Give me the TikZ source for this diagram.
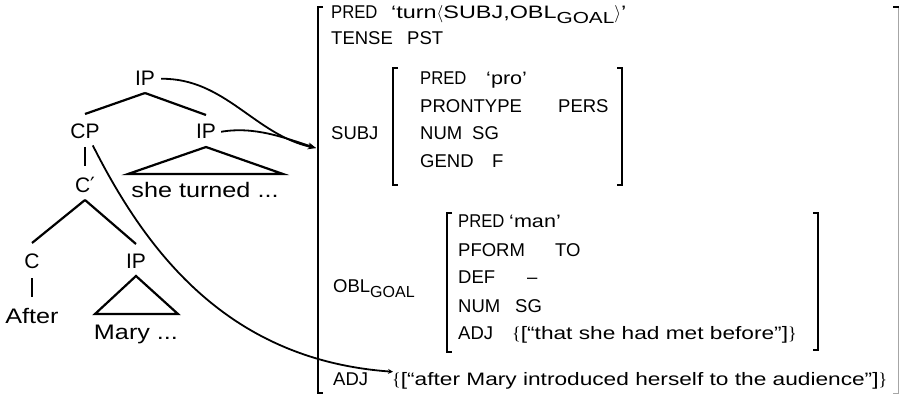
\documentclass[tikz,border=0pt]{standalone}
\usepackage{fontspec}
\setmainfont{Liberation Sans}
\newfontfamily\lw{Liberation Sans}[FakeStretch=1.2]
\newfontfamily\lww{Liberation Sans}[FakeStretch=1.26]
\newfontfamily\lwww{Liberation Sans}[FakeStretch=1.3]
\newfontfamily\narrowf{Liberation Sans}[FakeStretch=0.9]
\newfontfamily\serifb{Liberation Serif}
\newfontfamily\dejavu{DejaVu Sans}
\usetikzlibrary{arrows.meta}
\newcommand{\subgoal}{\raisebox{-5pt}{\fontsize{16}{16}\selectfont GOAL}}
\newcommand{\lbr}{{\serifb\{}}
\newcommand{\rbr}{{\serifb\}}}
\begin{document}
\begin{tikzpicture}[x=1pt,y=-1pt,
  tree/.style={font=\fontsize{21}{21}\selectfont, inner sep=0pt, anchor=base},
  treelw/.style={tree, font=\fontsize{21}{21}\selectfont\lw},
  avm/.style={font=\fontsize{18.5}{18.5}\selectfont, inner sep=0pt, anchor=base west},
  avmnarrow/.style={avm, font=\fontsize{18.5}{18.5}\selectfont\narrowf},
  avmlw/.style={avm, font=\fontsize{18}{18}\selectfont\lw},
  avmlww/.style={avm, font=\fontsize{18}{18}\selectfont\lww},
  avmpred/.style={avm, font=\fontsize{18}{18}\selectfont\lwww},
  branch/.style={line width=2.2pt},
  brk/.style={line width=1.6pt},
  link/.style={line width=1.8pt, -{Stealth[length=8pt,width=6pt]}},
  smalllink/.style={line width=1.8pt, -{Stealth[length=5pt,width=5pt]}}]
\useasboundingbox (0,0) rectangle (901,395);
% ---------- tree ----------
\node[tree]   (ip1)   at (145,86)  {IP};
\node[tree]   (cp)    at (85,139)  {CP};
\node[tree]   (ip2)   at (206,139) {IP};
\node[treelw] (she)   at (205,198) {she turned ...};
\node[tree]   (cbar)  at (85,193)  {C{\dejavu ′}};
\node[tree]   (c)     at (32,268)  {C};
\node[tree]   (ip3)   at (136,268) {IP};
\node[treelw] (after) at (32,323)  {After};
\node[treelw] (mary)  at (136,339) {Mary ...};
\draw[branch] ([yshift=-7pt]ip1.base) -- ([yshift=25pt]cp.base);
\draw[branch] ([yshift=-7pt]ip1.base) -- ([yshift=24pt]ip2.base);
\draw[branch] ([yshift=-8pt]cp.base) -- ([yshift=27pt]cbar.base);
\draw[branch] ([yshift=-7pt]cbar.base) -- ([yshift=25pt]c.base);
\draw[branch] ([yshift=-7pt]cbar.base) -- ([yshift=24pt]ip3.base);
\draw[branch] ([yshift=-10pt]c.base) -- ([yshift=26pt]after.base);
\draw[branch, line join=miter] ([yshift=-8pt]ip2.base) -- ([xshift=-77pt,yshift=24pt]she.base)
   -- ([xshift=78pt,yshift=24pt]she.base) -- cycle;
\draw[branch, line join=miter] ([yshift=-8pt]ip3.base) -- ([xshift=-41pt,yshift=25pt]mary.base)
   -- ([xshift=42pt,yshift=25pt]mary.base) -- cycle;
% ---------- AVM ----------
\node[avmnarrow] (pred)  at (331,19) {PRED};
\node[avmpred]   (predv) at (391,19) {‘turn$\langle$SUBJ,OBL\subgoal$\rangle$’};
\node[avm]    (tense) at (331,45) {TENSE};
\node[avm]    (pst)   at (407,45) {PST};
\node[avm]    (subj)  at (331,140) {SUBJ};
\node[avmnarrow] (spred) at (420,85) {PRED};
\node[avmlw]  (spro)  at (486,85) {‘pro’};
\node[avm]    (sptyp) at (420,113) {PRONTYPE};
\node[avm]    (spers) at (558,113) {PERS};
\node[avm]    (snum)  at (420,140) {NUM};
\node[avm]    (ssg)   at (472,140) {SG};
\node[avm]    (sgend) at (420,168) {GEND};
\node[avm]    (sf)    at (492,168) {F};
\node[avm]    (obl)   at (333,292) {OBL\subgoal};
\node[avmnarrow] (opred) at (458,228) {PRED};
\node[avmlw]  (oman)  at (509,228) {‘man’};
\node[avm]    (opf)   at (458,256) {PFORM};
\node[avm]    (oto)   at (555,256) {TO};
\node[avm]    (odef)  at (458,283) {DEF};
\node[avm]    (odash) at (527,283) {–};
\node[avm]    (onum)  at (458,312) {NUM};
\node[avm]    (osg)   at (515,312) {SG};
\node[avm]    (oadj)  at (458,339) {ADJ};
\node[avmlww] (oadjv) at (512,339) {\lbr[“that she had met before”]\rbr};
\node[avm]    (adj)   at (333,385) {ADJ};
\node[avmlww] (adjv)  at (392,385) {\lbr[“after Mary introduced herself to the audience”]\rbr};
% brackets
\draw[brk] (323,7) -- (318,7) -- (318,393) -- (323,393);
\draw[line width=1pt, gray!70] (898,7) -- (898,393);
\draw[brk] (893,7) -- (898.5,7);
\draw[line width=1pt, gray!70] (893,393) -- (898.5,393);
\draw[brk] (398,68) -- (393,68) -- (393,185) -- (398,185);
\draw[brk] (617,68) -- (622,68) -- (622,185) -- (617,185);
\draw[brk] (452,213) -- (447,213) -- (447,352) -- (452,352);
\draw[brk] (813,213) -- (818,213) -- (818,350) -- (813,350);
% ---------- links ----------
\coordinate (tip) at (316,148);
\draw[link] ([xshift=6pt]ip1.east) .. controls (225,78) and (255,135) .. (tip);
\draw[link] ([xshift=5pt]ip2.east) .. controls (255,126) and (285,138) .. (tip);
\draw[smalllink] ([xshift=-7pt,yshift=-6pt]cp.south east) .. controls (148,255) and (230,360) .. ([xshift=1pt]adjv.north west);
\end{tikzpicture}
\end{document}
